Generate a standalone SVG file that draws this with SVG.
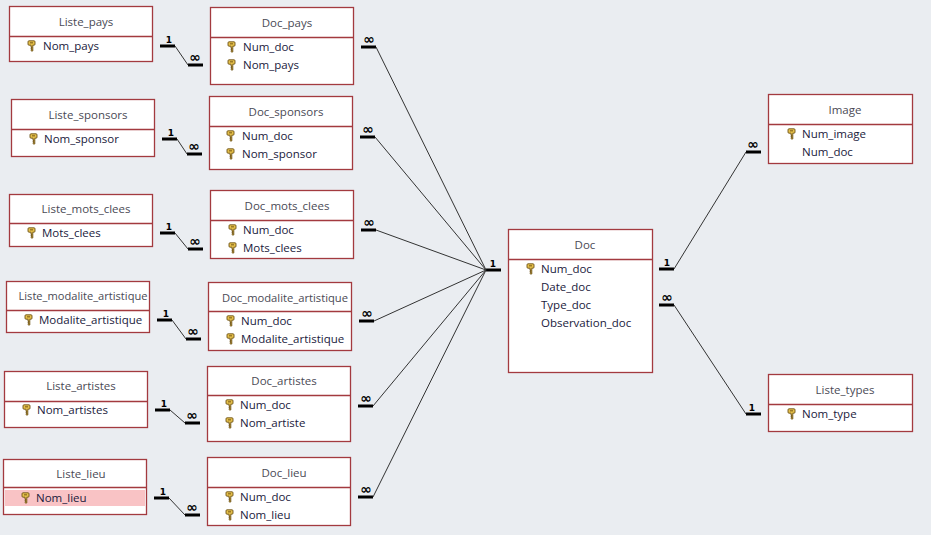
<svg xmlns="http://www.w3.org/2000/svg" xmlns:xlink="http://www.w3.org/1999/xlink" width="931" height="535" viewBox="0 0 931 535">
<style>
.bg{fill:#EAEDF1}
.box{fill:#FFFFFF;stroke:#A33A3F;stroke-width:1.3}
.sep{stroke:#A33A3F;stroke-width:1.3}
.title{font-family:"Open Sans","Noto Sans",sans-serif;font-size:11.5px;fill:#4A4A55;text-anchor:middle}
.fld{font-family:"Open Sans","Noto Sans",sans-serif;font-size:11.5px;fill:#1A1A3C}
.bar{stroke:#000;stroke-width:3;fill:none}
.ln{stroke:#333;stroke-width:1;fill:none}
.one{font-family:"DejaVu Sans",sans-serif;font-size:9px;font-weight:bold;fill:#000;text-anchor:middle}
.inf{font-family:"DejaVu Sans",sans-serif;font-size:14px;font-weight:bold;fill:#000;text-anchor:middle}
.hl{fill:#F9C3C5}
</style>
<defs>
<g id="key">
<path d="M1,0.8 h5 a1,1 0 0 1 1,1 v2.4 a1,1 0 0 1 -1,1 h-1.2 v5.8 h-1.2 l-0.6,-0.4 v-0.9 h1 v-1 h-1 v-1 h1 v-0.6 h-1 v-1.9 h-2 a1,1 0 0 1 -1,-1 v-2.4 a1,1 0 0 1 1,-1 z" fill="#E5C04A" stroke="#6E5418" stroke-width="0.9"/>
<rect x="2" y="2.2" width="3" height="1.2" fill="#8A6A1E"/>
</g>
</defs>
<rect class="bg" x="0" y="0" width="931" height="535"/>

<g id="connectors">
  <path class="bar" d="M160,46 h15 M188,65 h15"/><path class="ln" d="M175,46 L188,65"/>
  <text class="one" x="169" y="43">1</text><text class="inf" x="195" y="62">∞</text>
  <path class="bar" d="M162,139 h15 M187,154 h15"/><path class="ln" d="M177,139 L187,154"/>
  <text class="one" x="171" y="136">1</text><text class="inf" x="194" y="151">∞</text>
  <path class="bar" d="M160,233 h15 M188,249 h15"/><path class="ln" d="M175,233 L188,249"/>
  <text class="one" x="169" y="230">1</text><text class="inf" x="195" y="246">∞</text>
  <path class="bar" d="M157,320 h15 M186,339 h15"/><path class="ln" d="M172,320 L186,339"/>
  <text class="one" x="166" y="317">1</text><text class="inf" x="193" y="336">∞</text>
  <path class="bar" d="M155,410 h15 M185,423 h15"/><path class="ln" d="M170,410 L185,423"/>
  <text class="one" x="164" y="407">1</text><text class="inf" x="192" y="420">∞</text>
  <path class="bar" d="M154,498 h15 M185,515 h15"/><path class="ln" d="M169,498 L185,515"/>
  <text class="one" x="163" y="495">1</text><text class="inf" x="192" y="512">∞</text>

  <path class="bar" d="M361,47 h15 M360,137 h15 M361,230 h15 M359,321 h15 M358,406 h15 M358,497 h15 M486,270 h15"/>
  <path class="ln" d="M376,47 L486,270 M375,137 L486,270 M376,230 L486,270 M374,321 L486,270 M373,406 L486,270 M373,497 L486,270"/>
  <text class="inf" x="369" y="44">∞</text>
  <text class="inf" x="368" y="134">∞</text>
  <text class="inf" x="369" y="227">∞</text>
  <text class="inf" x="367" y="318">∞</text>
  <text class="inf" x="366" y="403">∞</text>
  <text class="inf" x="366" y="494">∞</text>
  <text class="one" x="493" y="267">1</text>

  <path class="bar" d="M659,269 h15 M746,152 h15"/><path class="ln" d="M674,269 L746,152"/>
  <text class="one" x="667" y="266">1</text><text class="inf" x="753" y="149">∞</text>
  <path class="bar" d="M659,305 h15 M746,414 h15"/><path class="ln" d="M674,305 L746,414"/>
  <text class="inf" x="667" y="302">∞</text><text class="one" x="752" y="411">1</text>
</g>

<g id="Liste_pays">
  <rect class="box" x="9.5" y="6.5" width="143" height="55"/><line class="sep" x1="9.5" y1="36.5" x2="152.5" y2="36.5"/>
  <text class="title" x="86" y="26">Liste_pays</text>
  <use xlink:href="#key" x="28" y="40"/><text class="fld" x="43" y="50">Nom_pays</text>
</g>
<g id="Doc_pays">
  <rect class="box" x="210.5" y="7.5" width="143" height="77"/><line class="sep" x1="210.5" y1="37.5" x2="353.5" y2="37.5"/>
  <text class="title" x="287" y="27">Doc_pays</text>
  <use xlink:href="#key" x="228" y="41"/><text class="fld" x="243" y="51">Num_doc</text>
  <use xlink:href="#key" x="228" y="59"/><text class="fld" x="243" y="69">Nom_pays</text>
</g>
<g id="Liste_sponsors">
  <rect class="box" x="11.5" y="99.5" width="143" height="57"/><line class="sep" x1="11.5" y1="129.5" x2="154.5" y2="129.5"/>
  <text class="title" x="88" y="119">Liste_sponsors</text>
  <use xlink:href="#key" x="30" y="133"/><text class="fld" x="44" y="143">Nom_sponsor</text>
</g>
<g id="Doc_sponsors">
  <rect class="box" x="209.5" y="96.5" width="143" height="73"/><line class="sep" x1="209.5" y1="126.5" x2="352.5" y2="126.5"/>
  <text class="title" x="286" y="116">Doc_sponsors</text>
  <use xlink:href="#key" x="227" y="130"/><text class="fld" x="242" y="140">Num_doc</text>
  <use xlink:href="#key" x="227" y="148"/><text class="fld" x="242" y="158">Nom_sponsor</text>
</g>
<g id="Liste_mots_clees">
  <rect class="box" x="9.5" y="194.5" width="143" height="52"/><line class="sep" x1="9.5" y1="223.5" x2="152.5" y2="223.5"/>
  <text class="title" x="86" y="213">Liste_mots_clees</text>
  <use xlink:href="#key" x="28" y="227"/><text class="fld" x="42" y="237">Mots_clees</text>
</g>
<g id="Doc_mots_clees">
  <rect class="box" x="210.5" y="190.5" width="143" height="68"/><line class="sep" x1="210.5" y1="220.5" x2="353.5" y2="220.5"/>
  <text class="title" x="287" y="210">Doc_mots_clees</text>
  <use xlink:href="#key" x="229" y="224"/><text class="fld" x="243" y="234">Num_doc</text>
  <use xlink:href="#key" x="229" y="242"/><text class="fld" x="243" y="252">Mots_clees</text>
</g>
<g id="Liste_modalite_artistique">
  <rect class="box" x="6.5" y="281.5" width="143" height="51"/><line class="sep" x1="6.5" y1="310.5" x2="149.5" y2="310.5"/>
  <text class="title" x="83" y="300" textLength="129" lengthAdjust="spacingAndGlyphs">Liste_modalite_artistique</text>
  <use xlink:href="#key" x="25" y="314"/><text class="fld" x="39" y="324">Modalite_artistique</text>
</g>
<g id="Doc_modalite_artistique">
  <rect class="box" x="208.5" y="282.5" width="143" height="68"/><line class="sep" x1="208.5" y1="311.5" x2="351.5" y2="311.5"/>
  <text class="title" x="285" y="302" textLength="126" lengthAdjust="spacingAndGlyphs">Doc_modalite_artistique</text>
  <use xlink:href="#key" x="227" y="315"/><text class="fld" x="241" y="325">Num_doc</text>
  <use xlink:href="#key" x="227" y="333"/><text class="fld" x="241" y="343">Modalite_artistique</text>
</g>
<g id="Liste_artistes">
  <rect class="box" x="4.5" y="371.5" width="143" height="56"/><line class="sep" x1="4.5" y1="401.5" x2="147.5" y2="401.5"/>
  <text class="title" x="81" y="390">Liste_artistes</text>
  <use xlink:href="#key" x="23" y="404"/><text class="fld" x="37" y="414">Nom_artistes</text>
</g>
<g id="Doc_artistes">
  <rect class="box" x="207.5" y="366.5" width="143" height="75"/><line class="sep" x1="207.5" y1="395.5" x2="350.5" y2="395.5"/>
  <text class="title" x="284" y="385">Doc_artistes</text>
  <use xlink:href="#key" x="226" y="399"/><text class="fld" x="240" y="409">Num_doc</text>
  <use xlink:href="#key" x="226" y="417"/><text class="fld" x="240" y="427">Nom_artiste</text>
</g>
<g id="Liste_lieu">
  <rect class="box" x="3.5" y="459.5" width="143" height="55"/><line class="sep" x1="3.5" y1="487.5" x2="146.5" y2="487.5"/>
  <rect class="hl" x="5" y="490" width="140" height="16"/>
  <text class="title" x="81" y="478">Liste_lieu</text>
  <use xlink:href="#key" x="22" y="492"/><text class="fld" x="36" y="502">Nom_lieu</text>
</g>
<g id="Doc_lieu">
  <rect class="box" x="207.5" y="457.5" width="143" height="68"/><line class="sep" x1="207.5" y1="487.5" x2="350.5" y2="487.5"/>
  <text class="title" x="284" y="477">Doc_lieu</text>
  <use xlink:href="#key" x="226" y="491"/><text class="fld" x="240" y="501">Num_doc</text>
  <use xlink:href="#key" x="226" y="509"/><text class="fld" x="240" y="519">Nom_lieu</text>
</g>
<g id="Doc">
  <rect class="box" x="508.5" y="229.5" width="144" height="143"/><line class="sep" x1="508.5" y1="259.5" x2="652.5" y2="259.5"/>
  <text class="title" x="585" y="249">Doc</text>
  <use xlink:href="#key" x="527" y="263"/><text class="fld" x="541" y="273">Num_doc</text>
  <text class="fld" x="541" y="291">Date_doc</text>
  <text class="fld" x="541" y="309">Type_doc</text>
  <text class="fld" x="541" y="327">Observation_doc</text>
</g>
<g id="Image">
  <rect class="box" x="768.5" y="94.5" width="144" height="69"/><line class="sep" x1="768.5" y1="124.5" x2="912.5" y2="124.5"/>
  <text class="title" x="845" y="114">Image</text>
  <use xlink:href="#key" x="788" y="128"/><text class="fld" x="802" y="138">Num_image</text>
  <text class="fld" x="802" y="156">Num_doc</text>
</g>
<g id="Liste_types">
  <rect class="box" x="768.5" y="374.5" width="144" height="57"/><line class="sep" x1="768.5" y1="404.5" x2="912.5" y2="404.5"/>
  <text class="title" x="845" y="394">Liste_types</text>
  <use xlink:href="#key" x="788" y="408"/><text class="fld" x="802" y="418">Nom_type</text>
</g>
</svg>
